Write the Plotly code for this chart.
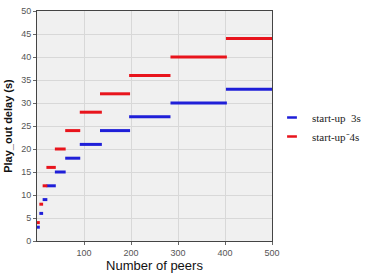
import plotly.graph_objects as go

# Peer-count intervals (start, end) for each step
x_start = [0, 5, 12, 20, 38, 60, 91, 134, 196, 284, 402]
x_end = [6, 13, 22, 40, 61, 92, 138, 198, 284, 404, 500]
# Play-out delay per interval
delay_3s = [3, 6, 9, 12, 15, 18, 21, 24, 27, 30, 33]
delay_4s = [4, 8, 12, 16, 20, 24, 28, 32, 36, 40, 44]

series = [
    ("start-up\u00a0\u00a03s", delay_3s, "#1f1fd8"),
    ("start-up\u207b4s", delay_4s, "#e8141c"),
]


def segs(values):
    xs, ys = [], []
    for a, b, v in zip(x_start, x_end, values):
        xs += [a, b, None]
        ys += [v, v, None]
    return xs, ys


fig = go.Figure()
for name, vals, col in series:
    xs, ys = segs(vals)
    fig.add_trace(go.Scatter(x=xs, y=ys, mode="lines", name=name, showlegend=False,
                             line=dict(color=col, width=3)))
    # legend entry with a short dash marker
    fig.add_trace(go.Scatter(x=[None], y=[None], mode="markers", name=name,
                             marker=dict(symbol="line-ew-open", size=7, color=col,
                                         line=dict(color=col, width=2.5))))

fig.update_layout(
    width=372, height=277,
    margin=dict(l=37, r=85, t=6, b=31),
    paper_bgcolor="white",
    plot_bgcolor="#f0f0f0",
    showlegend=True,
    legend=dict(x=1.0, y=0.6, xanchor="left", yanchor="top",
                font=dict(family="Liberation Serif, Times New Roman, serif", size=11, color="#222"),
                itemwidth=30, tracegroupgap=0, bgcolor="rgba(0,0,0,0)"),
    xaxis=dict(range=[0, 500], tickvals=[100, 200, 300, 400, 500],
               showgrid=True, gridcolor="#d8d8d8", gridwidth=1,
               showline=True, linecolor="#444", linewidth=1, mirror=True,
               ticks="outside", ticklen=3, tickcolor="#666",
               tickfont=dict(family="Liberation Sans Narrow, Liberation Sans", size=9, color="#555"),
               zeroline=False,
               title=dict(text="Number of peers", standoff=4,
                          font=dict(family="Liberation Sans Narrow, Liberation Sans", size=13, color="#111"))),
    yaxis=dict(range=[0, 50], dtick=5,
               showgrid=True, gridcolor="#d8d8d8", gridwidth=1,
               showline=True, linecolor="#444", linewidth=1, mirror=True,
               ticks="outside", ticklen=3, tickcolor="#666",
               tickfont=dict(family="Liberation Sans Narrow, Liberation Sans", size=9, color="#555"),
               zeroline=False,
               title=dict(text="<b>Play_out delay (s)</b>", standoff=6,
                          font=dict(family="Liberation Sans", size=11, color="#111"))),
)

fig.write_html("out.html")
